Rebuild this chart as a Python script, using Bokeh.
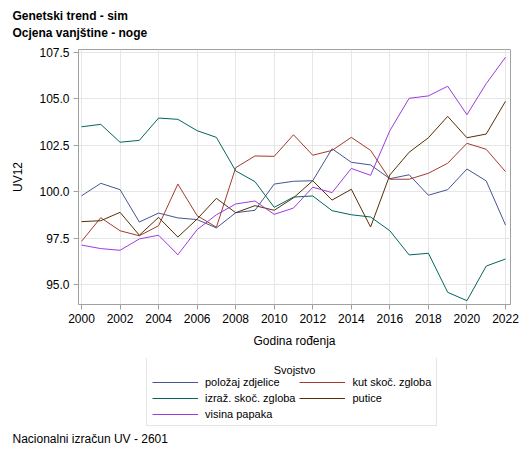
from bokeh.plotting import figure
from bokeh.layouts import column
from bokeh.models import (Range1d, FixedTicker, NumeralTickFormatter,
                          Legend, LegendItem, Label)
from bokeh.embed import file_html
from bokeh.resources import INLINE

# godine rođenja
years = list(range(2000, 2023))

polozaj_zdjelice = [99.78, 100.45, 100.11, 98.37, 98.85, 98.59, 98.50, 98.05, 98.87, 99.00,
                    100.41, 100.56, 100.59, 102.31, 101.58, 101.44, 100.70, 100.91, 99.81,
                    100.11, 101.22, 100.58, 98.21]
kut_skoc_zgloba = [97.33, 98.60, 97.90, 97.63, 98.17, 100.41, 98.71, 98.09, 101.29, 101.92,
                   101.90, 103.06, 101.96, 102.22, 102.92, 102.22, 100.67, 100.67, 100.99,
                   101.53, 102.60, 102.28, 101.08]
izraz_skoc_zgloba = [103.49, 103.62, 102.66, 102.76, 103.96, 103.89, 103.28, 102.92, 101.12,
                     100.54, 99.16, 99.71, 99.77, 98.98, 98.76, 98.64, 97.90, 96.60, 96.69,
                     94.59, 94.14, 96.00, 96.38]
putice = [98.39, 98.44, 98.89, 97.66, 98.62, 97.56, 98.53, 99.64, 98.87, 99.25, 99.00, 99.67,
          100.59, 99.55, 100.13, 98.10, 100.90, 102.12, 102.90, 104.05, 102.90, 103.10, 104.86]
visina_papaka = [97.13, 96.94, 96.85, 97.46, 97.66, 96.61, 97.96, 98.76, 99.34, 99.50, 98.78,
                 99.12, 100.24, 99.95, 101.25, 100.88, 103.28, 105.02, 105.15, 105.67, 104.14,
                 105.81, 107.23]

x_ticks = list(range(2000, 2023, 2))
y_ticks = [95.0, 97.5, 100.0, 102.5, 105.0, 107.5]

FONT = "Liberation Sans"


def blank_fig(h):
    f = figure(width=529, height=h, output_backend="svg", toolbar_location=None,
               x_range=Range1d(0, 1), y_range=Range1d(0, 1),
               x_axis_type=None, y_axis_type=None, min_border=0, title=None)
    f.frame_align = False
    f.grid.visible = False
    f.outline_line_color = None
    return f


# naslovi
top = blank_fig(40)
top.add_layout(Label(x=12, y=25, x_units="screen", y_units="screen",
                     text="Genetski trend - sim", text_font=FONT, text_font_size="12px",
                     text_font_style="bold", text_baseline="middle", text_color="#000000"))
top.add_layout(Label(x=12, y=8, x_units="screen", y_units="screen",
                     text="Ocjena vanjštine - noge", text_font=FONT, text_font_size="12px",
                     text_font_style="bold", text_baseline="middle", text_color="#000000"))

p = figure(width=529, height=318, output_backend="svg", toolbar_location=None,
           x_range=Range1d(1999.844, 2022.26), y_range=Range1d(93.935, 107.645),
           min_border_left=78, min_border_right=19, min_border_top=9,
           min_border_bottom=54, title=None)
p.frame_align = False

series = {
    "položaj zdjelice": (polozaj_zdjelice, "#445694"),
    "kut skoč. zgloba": (kut_skoc_zgloba, "#A23A2E"),
    "izraž. skoč. zgloba": (izraz_skoc_zgloba, "#01665E"),
    "putice": (putice, "#543005"),
    "visina papaka": (visina_papaka, "#9D3CDB"),
}

for name, (vals, col) in series.items():
    p.line(years, vals, line_color=col, line_width=1)

# osi
p.xaxis.ticker = FixedTicker(ticks=x_ticks)
p.yaxis.ticker = FixedTicker(ticks=y_ticks)
p.yaxis.formatter = NumeralTickFormatter(format="0.0")
p.xaxis.axis_label = "Godina rođenja"
p.yaxis.axis_label = "UV12"
for ax in (p.xaxis, p.yaxis):
    ax.axis_line_color = None
    ax.major_tick_line_color = "#a0a0a0"
    ax.major_tick_out = 5
    ax.major_tick_in = 0
    ax.minor_tick_line_color = None
    ax.major_label_text_font = FONT
    ax.major_label_text_font_size = "12px"
    ax.major_label_text_color = "#000000"
    ax.axis_label_text_font = FONT
    ax.axis_label_text_font_size = "12px"
    ax.axis_label_text_font_style = "normal"
    ax.axis_label_text_color = "#000000"
p.xaxis.major_label_standoff = 4
p.xaxis.axis_label_standoff = 8
p.yaxis.major_label_standoff = 4
p.yaxis.axis_label_standoff = 11

p.xgrid.ticker = FixedTicker(ticks=x_ticks)
p.ygrid.ticker = FixedTicker(ticks=y_ticks)
p.grid.grid_line_color = "#e6e6e6"
p.outline_line_color = "#a0a0a0"
p.outline_line_width = 1

# donji dio: legenda i napomena
p2 = blank_fig(96)

# iste serije, izvan vidljivog raspona, samo za uzorke u legendi
rends = {}
for name, (vals, col) in series.items():
    rends[name] = p2.line(years, vals, line_color=col, line_width=1)

# legenda se puni po stupcima
legend_order = ["položaj zdjelice", "izraž. skoč. zgloba", "visina papaka",
                "kut skoč. zgloba", "putice"]
items = [LegendItem(label=n, renderers=[rends[n]]) for n in legend_order]

legend = Legend(items=items, title=" ", ncols=2, location=(146, 28),
                border_line_color="#cccccc", background_fill_alpha=0,
                label_text_font=FONT, label_text_font_size="11px",
                label_text_color="#000000", title_text_font=FONT,
                title_text_font_size="11px", title_text_font_style="normal",
                glyph_width=46, glyph_height=10, label_height=10, spacing=4,
                padding=5, label_standoff=7, title_standoff=14, margin=0)
p2.add_layout(legend, "center")

legend_title = Label(x=294, y=85, x_units="screen", y_units="screen",
                     text="Svojstvo", text_font=FONT, text_font_size="11px",
                     text_align="center", text_baseline="middle",
                     text_color="#000000")
p2.add_layout(legend_title)

foot = Label(x=12, y=16, x_units="screen", y_units="screen",
             text="Nacionalni izračun UV - 2601", text_font=FONT,
             text_font_size="12px", text_baseline="middle", text_color="#000000")
p2.add_layout(foot)

open("out.html", "w").write(file_html(column(top, p, p2), INLINE))
